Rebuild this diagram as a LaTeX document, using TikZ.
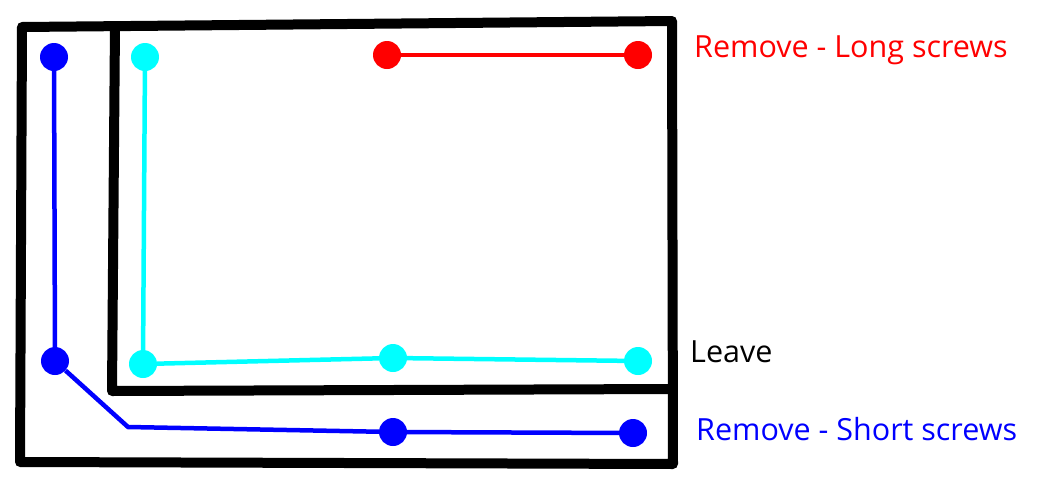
\documentclass[tikz,border=0pt]{standalone}
\usepackage{fontspec}
\setmainfont{Open Sans}
\usepackage{tikz}

\definecolor{screwCyan}{RGB}{0,255,255}
\definecolor{screwBlue}{RGB}{0,0,255}
\definecolor{screwRed}{RGB}{255,0,0}

\tikzset{
  screw/.style={circle, fill=#1, inner sep=0pt, minimum size=28pt},
  wire/.style={draw=#1, line width=4.5pt},
  frame/.style={draw=black, line width=10pt, line join=round},
  label/.style={anchor=base west, inner sep=0pt, font=\fontsize{30.5}{36}\selectfont}
}

\begin{document}
\begin{tikzpicture}[x=1pt,y=1pt,yscale=-1,xscale=1]
\useasboundingbox (0,0) rectangle (1053,488);

%Shape: outer frame
\draw [frame] (22,27) -- (672,21) -- (673,464) -- (20,462) -- cycle ;
%Shape: inner divider
\draw [frame] (115,25) -- (112,391) -- (672,389) ;

%Screws
\node [screw=screwBlue] (bTop) at (54,57) {};
\node [screw=screwBlue] (bLeft) at (55,361) {};
\node [screw=screwBlue] (bMid) at (393,432) {};
\node [screw=screwBlue] (bRight) at (633,433) {};
\coordinate (bBend) at (128,427);
\node [screw=screwCyan] (cTop) at (145,57) {};
\node [screw=screwCyan] (cLeft) at (143,364) {};
\node [screw=screwCyan] (cMid) at (393,358) {};
\node [screw=screwCyan] (cRight) at (638,361) {};
\node [screw=screwRed] (rLeft) at (387,55) {};
\node [screw=screwRed] (rRight) at (638,55) {};

%Wires
\draw [wire=screwBlue] (bTop) -- (bLeft) -- (bBend) -- (bMid) -- (bRight) ;
\draw [wire=screwCyan] (cTop) -- (cLeft) -- (cMid) -- (cRight) ;
\draw [wire=screwRed] (rLeft) -- (rRight) ;

% Text Node
\node [label, text=screwRed] (longTxt) at (694,57) {Remove - Long screws};
% Text Node
\node [label, text=black] (leaveTxt) at (690,362) {Leave};
% Text Node
\node [label, text=screwBlue] (shortTxt) at (696,440) {Remove - Short screws};

\end{tikzpicture}
\end{document}
